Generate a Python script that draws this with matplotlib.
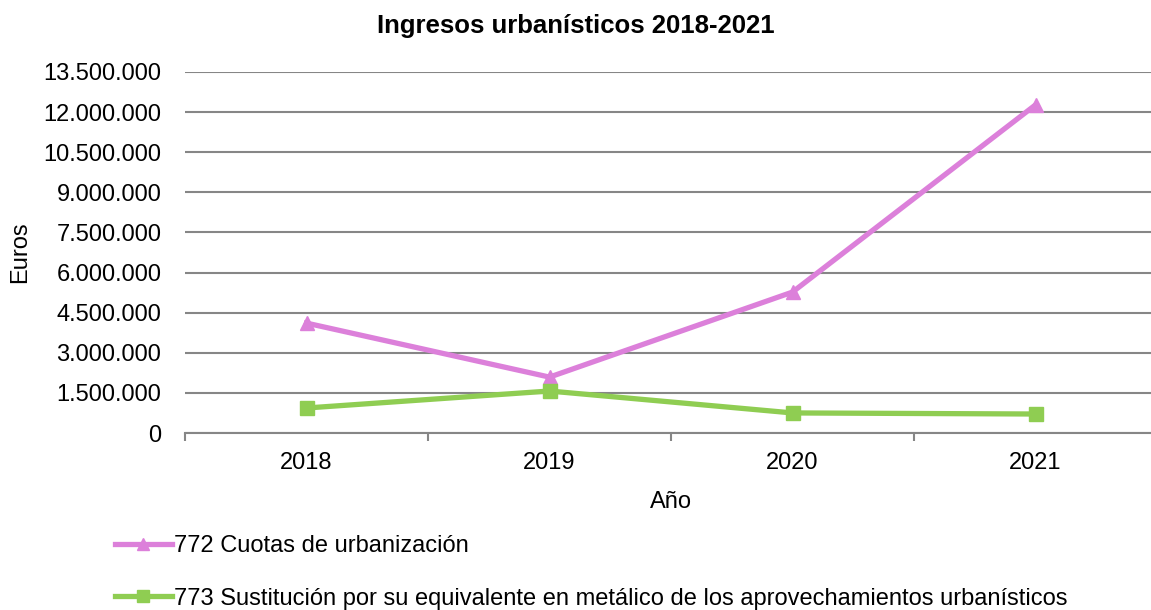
import matplotlib
matplotlib.use("Agg")
import matplotlib.pyplot as plt
from matplotlib.ticker import FuncFormatter, FixedLocator

years = ["2018", "2019", "2020", "2021"]
cuotas = [4110000, 2090000, 5270000, 12270000]
sustitucion = [935000, 1570000, 750000, 710000]
yticks = [0, 1500000, 3000000, 4500000, 6000000, 7500000, 9000000, 10500000, 12000000, 13500000]

plt.rcParams['font.family'] = ['Liberation Sans', 'DejaVu Sans']
FS = 17

fig = plt.figure(figsize=(11.51, 6.10), dpi=100)
ax = fig.add_axes([185/1151, 1-433/610, (1157-185)/1151, (433-72)/610])

x = list(range(len(years)))
pink = '#DC80DA'
green = '#8FCD52'
ax.plot(x, cuotas, color=pink, lw=3.8, marker='^', ms=10, label='772 Cuotas de urbanización', zorder=3)
ax.plot(x, sustitucion, color=green, lw=3.8, marker='s', ms=9.5, label='773 Sustitución por su equivalente en metálico de los aprovechamientos urbanísticos', zorder=3)

ax.set_xlim(-0.5, 3.5)
ax.set_ylim(0, 13500000)
ax.set_yticks(yticks)
ax.yaxis.set_major_formatter(FuncFormatter(lambda v, p: f"{int(v):,}".replace(",", ".")))
ax.grid(axis='y', color='#868686', lw=1.5)
ax.set_axisbelow(True)
for s in ['top', 'right', 'left']:
    ax.spines[s].set_visible(False)
ax.spines['bottom'].set_color('#868686')
ax.spines['bottom'].set_linewidth(1.5)
ax.tick_params(axis='y', length=0, labelsize=FS, pad=17)
ax.xaxis.set_major_locator(FixedLocator([-0.5, 0.5, 1.5, 2.5, 3.5]))
ax.set_xticklabels([])
ax.tick_params(axis='x', which='major', length=6, width=1.5, color='#868686', direction='out')
ax.xaxis.set_minor_locator(FixedLocator(x))
ax.set_xticks(x, minor=True)
ax.set_xticklabels(years, minor=True)
ax.tick_params(axis='x', which='minor', length=0, labelsize=FS, pad=14)

ax.set_ylabel('Euros', fontsize=FS)
ax.yaxis.set_label_coords(-0.158, 0.5)
ax.set_xlabel('Año', fontsize=FS, labelpad=12)
fig.text(0.5, 1-26/610, 'Ingresos urbanísticos 2018-2021', fontsize=18.5, fontweight='bold',
         ha='center', va='center')

leg = fig.legend(loc='upper left', bbox_to_anchor=(115/1151, 1-535/610), frameon=False,
                 fontsize=FS, handlelength=2.4, handletextpad=0.12, labelspacing=1.3,
                 borderaxespad=0, borderpad=0)
for h in leg.legend_handles:
    h.set_markersize(8)

fig.savefig('out.png', dpi=100)
